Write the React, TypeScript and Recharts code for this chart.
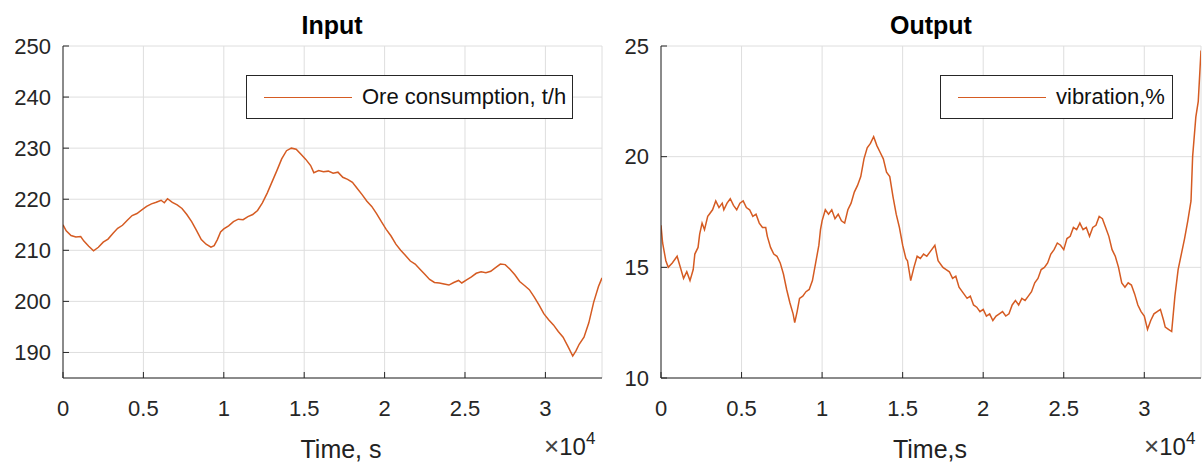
import { LineChart, Line, XAxis, YAxis, CartesianGrid } from 'recharts';

// time in units of 10^4 s
const inputTime = [
  0, 0.02, 0.05, 0.08, 0.11, 0.13, 0.16, 0.19, 0.22, 0.25, 0.28, 0.31, 0.34, 0.37, 0.4, 0.43, 0.46, 0.49,
  0.52, 0.55, 0.58, 0.61, 0.63, 0.65, 0.68, 0.71, 0.74, 0.77, 0.8, 0.83, 0.86, 0.89, 0.92, 0.94, 0.96, 0.98,
  1.0, 1.03, 1.06, 1.09, 1.12, 1.15, 1.18, 1.21, 1.24, 1.27, 1.3, 1.33, 1.36, 1.39, 1.42, 1.45, 1.48, 1.51,
  1.54, 1.56, 1.59, 1.62, 1.65, 1.68, 1.71, 1.74, 1.77, 1.8, 1.83, 1.86, 1.89, 1.92, 1.95, 1.98, 2.01, 2.04,
  2.07, 2.1, 2.13, 2.16, 2.19, 2.22, 2.25, 2.28, 2.31, 2.34, 2.37, 2.4, 2.43, 2.46, 2.48, 2.51, 2.54, 2.57,
  2.6, 2.63, 2.66, 2.69, 2.72, 2.75, 2.78, 2.81, 2.84, 2.87, 2.9, 2.93, 2.96, 2.99, 3.02, 3.05, 3.08, 3.11,
  3.14, 3.17, 3.19, 3.21, 3.24, 3.27, 3.3, 3.33, 3.352,
];
const oreConsumption = [
  215.0, 213.8, 212.9, 212.6, 212.7, 211.8, 210.8, 209.9, 210.6, 211.6, 212.2, 213.3, 214.3, 214.9, 215.9, 216.8, 217.2, 217.9,
  218.6, 219.1, 219.4, 219.8, 219.3, 220.1, 219.4, 218.9, 218.2, 217.0, 215.6, 213.9, 212.1, 211.2, 210.6, 210.9, 212.1, 213.6,
  214.2, 214.8, 215.6, 216.1, 216.0, 216.6, 217.0, 217.8, 219.3, 221.2, 223.4, 225.6, 227.9, 229.5, 230.0, 229.8, 228.8, 227.8,
  226.6, 225.2, 225.6, 225.4, 225.5, 225.1, 225.3, 224.3, 223.9, 223.3, 222.1, 220.9, 219.6, 218.6, 217.2, 215.6, 214.1, 212.8,
  211.2, 210.0, 209.0, 207.9, 207.3, 206.3, 205.3, 204.3, 203.7, 203.6, 203.4, 203.2, 203.7, 204.1, 203.6, 204.2, 204.8, 205.5,
  205.8, 205.6, 205.9, 206.6, 207.3, 207.2, 206.3, 205.2, 203.9, 203.1, 202.3, 200.9, 199.3, 197.6, 196.4, 195.4, 194.1, 193.0,
  191.2, 189.3, 190.3, 191.6, 193.0, 195.8, 199.8, 202.9, 204.6,
];

const outputTime = [
  0, 0.01, 0.03, 0.045, 0.07, 0.1, 0.12, 0.14, 0.16, 0.18, 0.2, 0.21, 0.23, 0.24, 0.255, 0.27, 0.29, 0.3,
  0.32, 0.34, 0.36, 0.38, 0.39, 0.41, 0.43, 0.45, 0.47, 0.49, 0.51, 0.53, 0.55, 0.57, 0.59, 0.61, 0.63, 0.65,
  0.66, 0.68, 0.7, 0.72, 0.74, 0.76, 0.78, 0.8, 0.82, 0.83, 0.845, 0.86, 0.88, 0.9, 0.92, 0.94, 0.96, 0.98,
  0.99, 1.0, 1.02, 1.04, 1.06, 1.08, 1.1, 1.12, 1.14, 1.16, 1.18, 1.2, 1.22, 1.24, 1.26, 1.28, 1.3, 1.32,
  1.34, 1.36, 1.38, 1.4, 1.42, 1.44, 1.46, 1.48, 1.5, 1.52, 1.53, 1.55, 1.57, 1.59, 1.61, 1.63, 1.65, 1.67,
  1.7, 1.72, 1.75, 1.77, 1.79, 1.81, 1.83, 1.85, 1.88, 1.9, 1.92, 1.94, 1.96, 1.98, 2.0, 2.02, 2.04, 2.06,
  2.08, 2.1, 2.12, 2.14, 2.16, 2.18, 2.2, 2.22, 2.24, 2.26, 2.28, 2.3, 2.32, 2.34, 2.36, 2.38, 2.4, 2.42,
  2.44, 2.46, 2.48, 2.5, 2.52, 2.54, 2.56, 2.58, 2.6, 2.62, 2.64, 2.66, 2.68, 2.7, 2.72, 2.74, 2.76, 2.78,
  2.8, 2.82, 2.84, 2.86, 2.88, 2.9, 2.92, 2.94, 2.96, 2.98, 3.0, 3.02, 3.04, 3.06, 3.08, 3.1, 3.12, 3.13,
  3.15, 3.17, 3.19, 3.21, 3.23, 3.25, 3.27, 3.29, 3.3, 3.32, 3.335, 3.352,
];
const vibration = [
  16.9, 16.1, 15.3, 15.0, 15.2, 15.5, 15.0, 14.5, 14.8, 14.4, 14.9, 15.6, 15.9, 16.5, 17.0, 16.7, 17.3, 17.4,
  17.6, 18.0, 17.7, 17.9, 17.6, 17.9, 18.1, 17.8, 17.6, 17.9, 18.0, 17.7, 17.6, 17.3, 17.4, 17.0, 16.8, 16.8,
  16.4, 15.9, 15.6, 15.5, 15.2, 14.7, 14.0, 13.4, 12.9, 12.5, 13.0, 13.6, 13.7, 13.9, 14.0, 14.4, 15.2, 16.0,
  16.7, 17.1, 17.6, 17.4, 17.6, 17.2, 17.4, 17.1, 17.0, 17.6, 17.9, 18.4, 18.7, 19.1, 19.9, 20.4, 20.6, 20.9,
  20.5, 20.2, 19.9, 19.3, 19.1, 18.2, 17.4, 16.8, 16.0, 15.4, 15.3, 14.4, 15.0, 15.5, 15.4, 15.6, 15.5, 15.7,
  16.0, 15.3, 15.0, 14.9, 14.8, 14.5, 14.6, 14.1, 13.8, 13.6, 13.7, 13.3, 13.2, 13.0, 13.1, 12.8, 12.9, 12.6,
  12.8, 12.9, 13.0, 12.8, 12.9, 13.3, 13.5, 13.3, 13.6, 13.5, 13.7, 13.9, 14.3, 14.5, 14.9, 15.0, 15.2, 15.6,
  15.8, 16.1, 16.0, 15.8, 16.3, 16.4, 16.8, 16.7, 17.0, 16.7, 16.8, 16.4, 16.8, 16.9, 17.3, 17.2, 16.8, 16.4,
  15.8, 15.5, 15.0, 14.3, 14.1, 14.3, 14.2, 13.8, 13.3, 13.0, 12.8, 12.2, 12.6, 12.9, 13.0, 13.1, 12.6, 12.3,
  12.2, 12.1, 13.7, 14.9, 15.6, 16.3, 17.1, 18.0, 20.0, 21.8, 22.5, 24.8,
];

const xTicks = [0, 0.5, 1, 1.5, 2, 2.5, 3];
const inputTicks = [190, 200, 210, 220, 230, 240, 250];
const outputTicks = [10, 15, 20, 25];

const inputData = inputTime.map((t, i) => ({ t, v: oreConsumption[i] }));
const outputData = outputTime.map((t, i) => ({ t, v: vibration[i] }));

const FONT = '"Liberation Sans", Arial, sans-serif';
const AXIS = '#262626';
const LINE = '#D55B22';
const TICK_LEN = 6;
const X_MARGIN = 22;
const Y_MARGIN = 12;

// MATLAB style ticks: the mark points into the plot, the label sits outside
const BottomTick = ({ x, y, payload }: any) => {
  const axisY = y - X_MARGIN;
  return (
    <g>
      <line x1={x} x2={x} y1={axisY} y2={axisY - TICK_LEN} stroke={AXIS} />
      <text x={x} y={y} dy="0.71em" textAnchor="middle" fill={AXIS} fontSize={22} fontFamily={FONT}>
        {payload.value}
      </text>
    </g>
  );
};

const LeftTick = ({ x, y, payload }: any) => {
  const axisX = x + Y_MARGIN;
  return (
    <g>
      <line x1={axisX} x2={axisX + TICK_LEN} y1={y} y2={y} stroke={AXIS} />
      <text x={x} y={y} dy="0.355em" textAnchor="end" fill={AXIS} fontSize={22} fontFamily={FONT}>
        {payload.value}
      </text>
    </g>
  );
};

const TopTick = ({ x, y }: any) => <line x1={x} x2={x} y1={y} y2={y + TICK_LEN} stroke={AXIS} />;
const RightTick = ({ x, y }: any) => <line x1={x} x2={x - TICK_LEN} y1={y} y2={y} stroke={AXIS} />;

const Panel = ({ data, yTicks, yDomain, width, marginLeft, marginRight }: any) => (
  <LineChart
    width={width}
    height={463}
    data={data}
    margin={{ top: 46, right: marginRight, bottom: 45, left: marginLeft }}
  >
    <CartesianGrid stroke="#dedede" strokeWidth={1} />
    <XAxis
      dataKey="t"
      type="number"
      domain={[0, 3.352]}
      ticks={xTicks}
      allowDataOverflow
      height={40}
      stroke={AXIS}
      tickLine={false}
      tickSize={0}
      tickMargin={X_MARGIN}
      tick={<BottomTick />}
    />
    <XAxis
      xAxisId="top"
      dataKey="t"
      type="number"
      orientation="top"
      domain={[0, 3.352]}
      ticks={xTicks}
      allowDataOverflow
      height={0}
      stroke={AXIS}
      tickLine={false}
      tickSize={0}
      tickMargin={0}
      tick={<TopTick />}
    />
    <YAxis
      type="number"
      domain={yDomain}
      ticks={yTicks}
      allowDataOverflow
      width={55}
      stroke={AXIS}
      tickLine={false}
      tickSize={0}
      tickMargin={Y_MARGIN}
      tick={<LeftTick />}
    />
    <YAxis
      yAxisId="right"
      orientation="right"
      type="number"
      domain={yDomain}
      ticks={yTicks}
      allowDataOverflow
      width={0}
      stroke={AXIS}
      tickLine={false}
      tickSize={0}
      tickMargin={0}
      tick={<RightTick />}
    />
    <Line type="linear" dataKey="v" stroke={LINE} strokeWidth={1.5} dot={false} isAnimationActive={false} />
  </LineChart>
);

const abs = (left: number, top: number, extra: any = {}) => ({
  position: 'absolute' as const,
  left,
  top,
  fontFamily: FONT,
  color: '#000',
  whiteSpace: 'nowrap' as const,
  ...extra,
});

const LegendBox = ({ left, width, label, lineLen }: any) => (
  <div
    style={abs(left, 75, {
      width,
      height: 44,
      boxSizing: 'border-box',
      border: `1.5px solid ${AXIS}`,
      background: '#fff',
      display: 'flex',
      alignItems: 'center',
      fontSize: 22,
      color: '#111',
    })}
  >
    <div style={{ width: lineLen, height: 0, borderTop: `1.5px solid ${LINE}`, marginLeft: 17, marginRight: 10 }} />
    <span>{label}</span>
  </div>
);

export default function App() {
  return (
    <div style={{ position: 'absolute', left: 0, top: 0, width: 1202, height: 463, background: '#fff', overflow: 'hidden' }}>
      <div style={{ position: 'absolute', left: 0, top: 0 }}>
        <Panel data={inputData} yTicks={inputTicks} yDomain={[185, 250]} width={620} marginLeft={8} marginRight={18} />
      </div>
      <div style={{ position: 'absolute', left: 600, top: 0 }}>
        <Panel data={outputData} yTicks={outputTicks} yDomain={[10, 25]} width={602} marginLeft={6} marginRight={1} />
      </div>

      <div style={abs(232, 10, { width: 200, textAlign: 'center', fontSize: 25, fontWeight: 'bold', lineHeight: '30px' })}>Input</div>
      <div style={abs(831, 10, { width: 200, textAlign: 'center', fontSize: 25, fontWeight: 'bold', lineHeight: '30px' })}>Output</div>

      <LegendBox left={246} width={327} label="Ore consumption, t/h" lineLen={88} />
      <LegendBox left={940} width={233} label="vibration,%" lineLen={88} />

      <div style={abs(241, 434, { width: 200, textAlign: 'center', fontSize: 25, lineHeight: '30px', color: '#222' })}>Time, s</div>
      <div style={abs(830, 434, { width: 200, textAlign: 'center', fontSize: 25, lineHeight: '30px', color: '#222' })}>Time,s</div>

      <div style={abs(544, 431, { fontSize: 24, lineHeight: '30px', color: '#222' })}>
        <span style={{ fontSize: 26, color: '#444' }}>×</span>10<sup style={{ fontSize: 17, verticalAlign: 'top', position: 'relative', top: -7 }}>4</sup>
      </div>
      <div style={abs(1144, 431, { fontSize: 24, lineHeight: '30px', color: '#222' })}>
        <span style={{ fontSize: 26, color: '#444' }}>×</span>10<sup style={{ fontSize: 17, verticalAlign: 'top', position: 'relative', top: -7 }}>4</sup>
      </div>
    </div>
  );
}
